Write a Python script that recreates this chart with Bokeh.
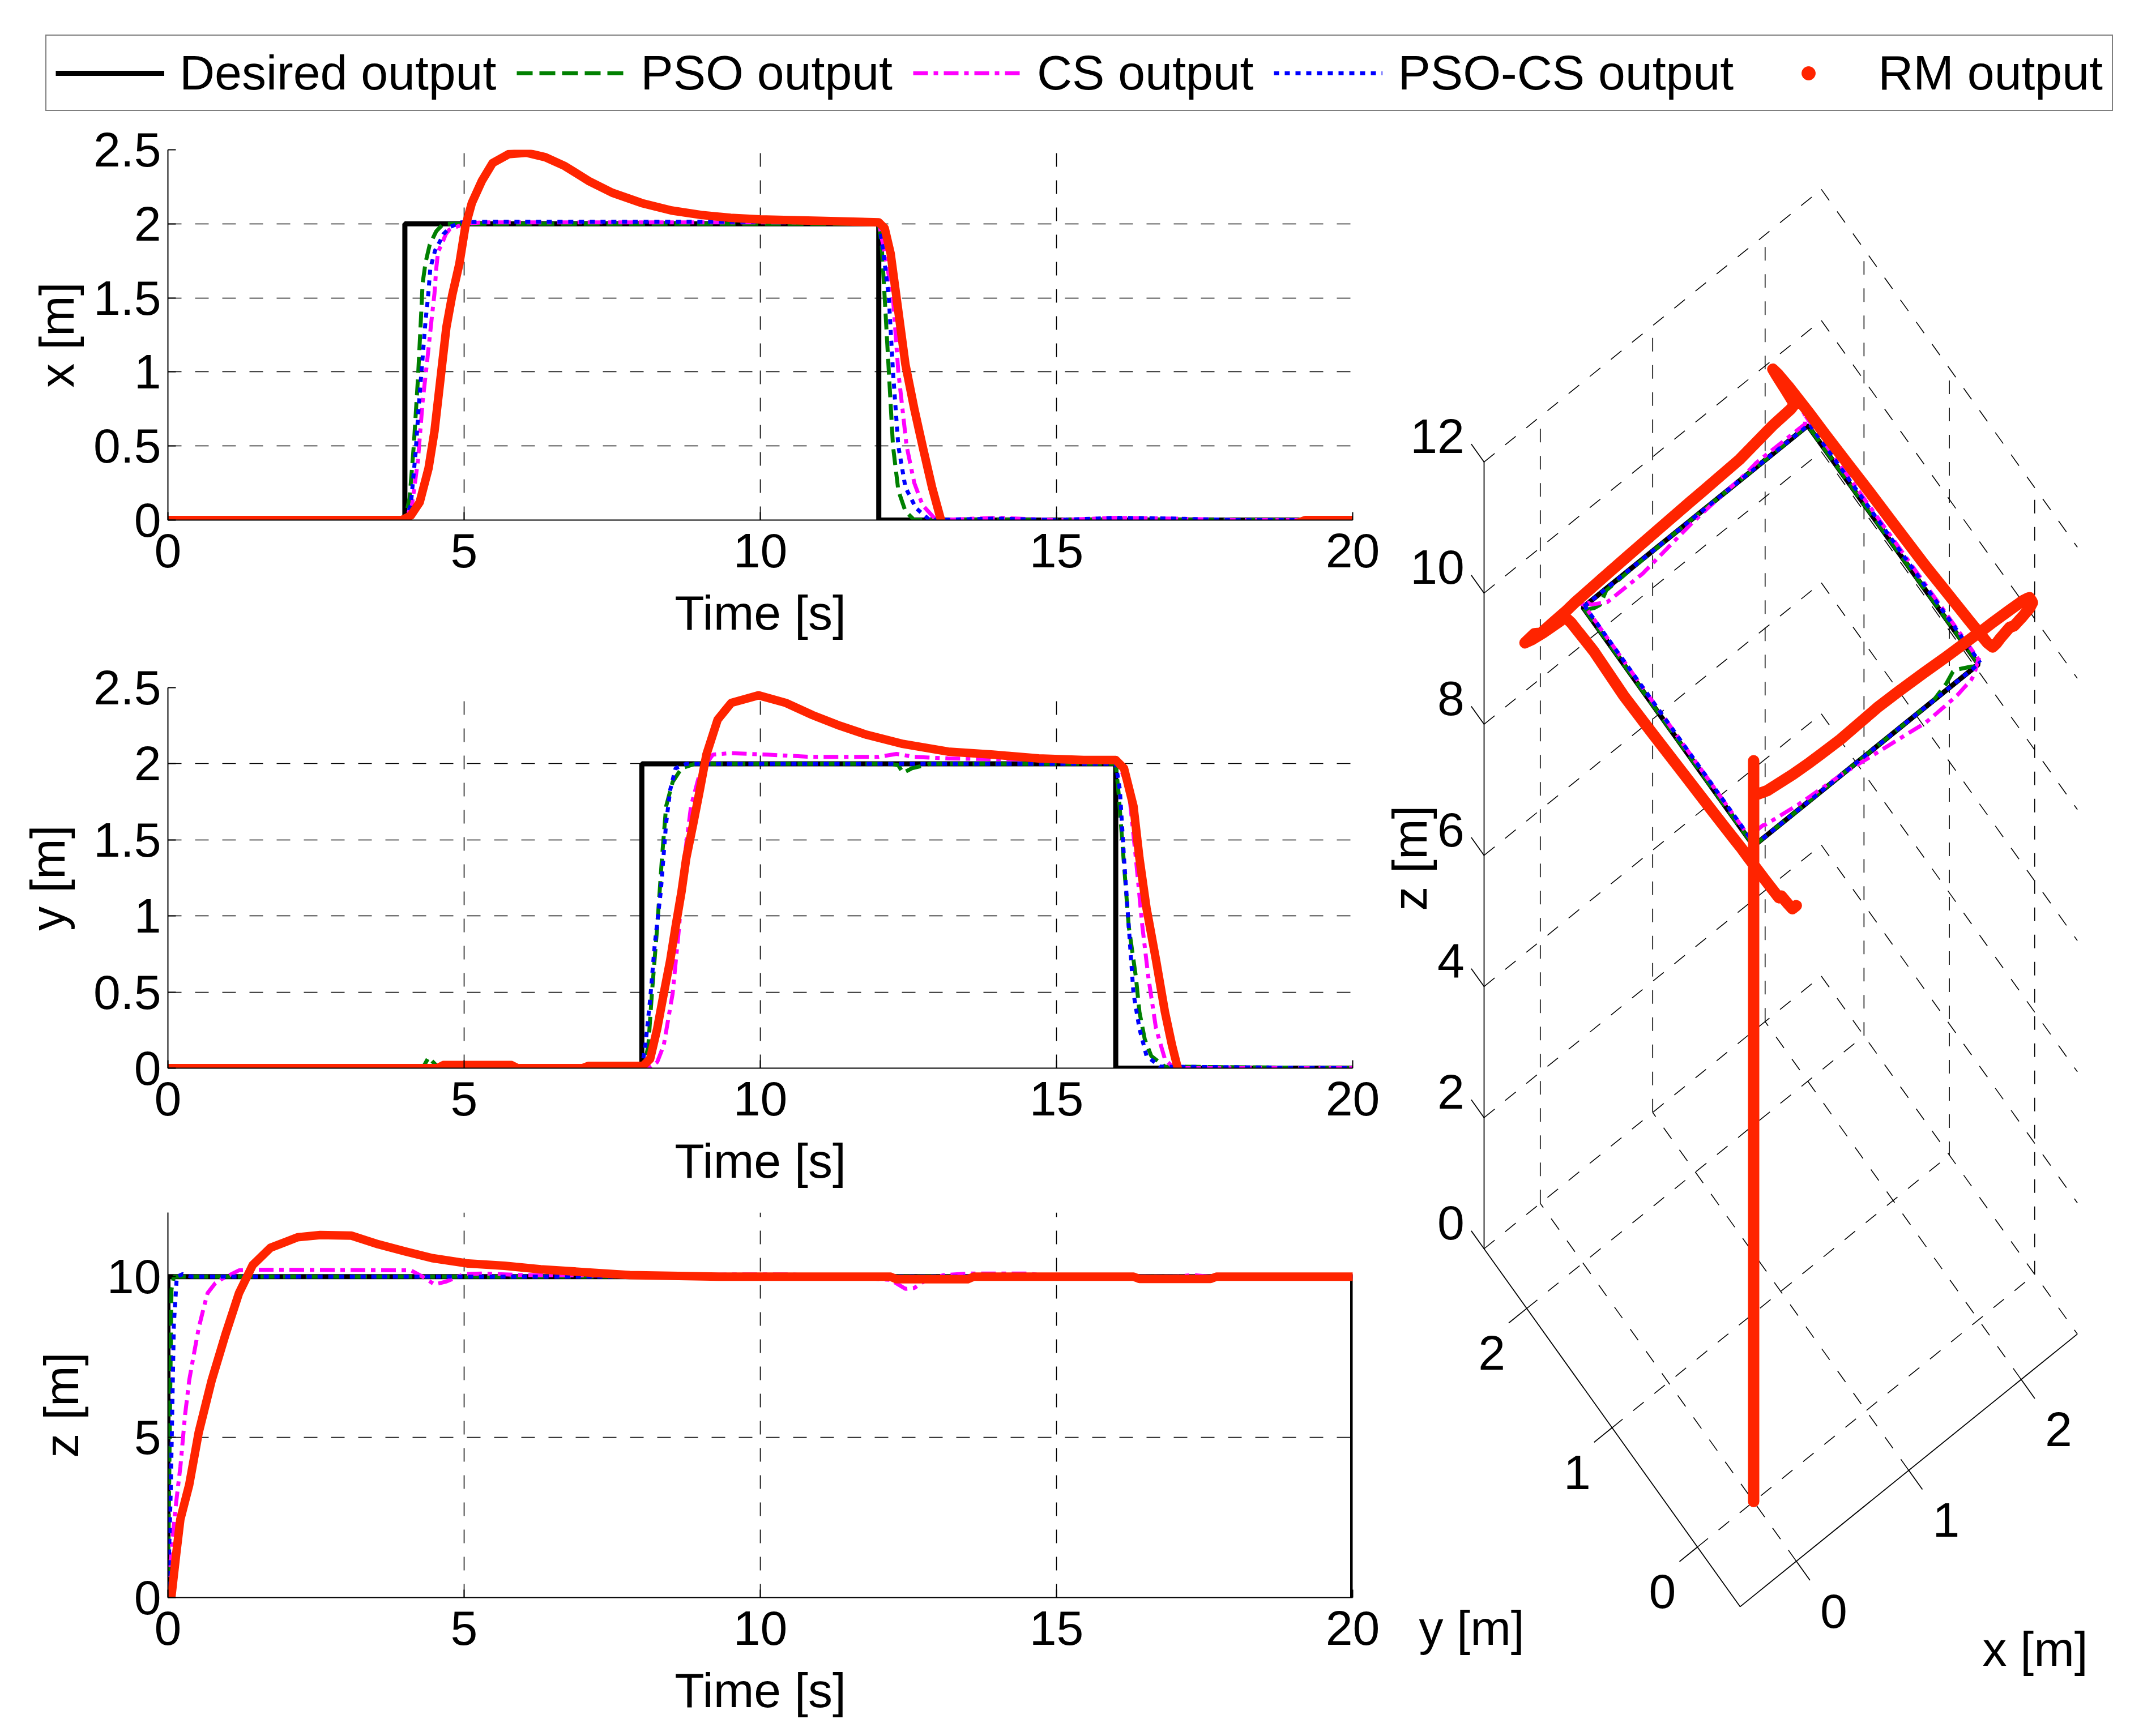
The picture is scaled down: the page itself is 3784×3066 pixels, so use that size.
import numpy as np
from bokeh.plotting import figure
from bokeh.layouts import column, row
from bokeh.models import Range1d, FixedTicker, Legend, LegendItem, CustomJSTickFormatter
from bokeh.embed import file_html
from bokeh.resources import INLINE
from bokeh.core.properties import value

FONT = "Liberation Sans"
FS = "86px"

# ---------------- data ----------------
# x [m] versus time
t_x_des = [0, 4, 4, 12, 12, 20]
x_des = [0, 0, 2, 2, 0, 0]
t_x_pso = [0, 4.0, 4.08, 4.15, 4.22, 4.27, 4.3, 4.35, 4.42, 4.53, 4.65, 12.0, 12.05, 12.1, 12.17, 12.24, 12.33, 12.45, 12.6, 20]
x_pso = [0, 0, 0.15, 0.5, 0.95, 1.35, 1.6, 1.74, 1.86, 1.95, 2.0, 2.0, 1.85, 1.5, 1.0, 0.5, 0.2, 0.06, 0.0, 0.0]
t_x_cs = [0, 4.0, 4.12, 4.22, 4.3, 4.37, 4.45, 4.5, 4.53, 4.56, 4.64, 4.69, 4.75, 5.0, 5.3, 12.0, 12.1, 12.24, 12.33, 12.47, 12.6, 12.74, 12.97, 14.0, 15.0, 16.0, 17.0, 18.0, 20]
x_cs = [0, 0, 0.1, 0.4, 0.8, 1.05, 1.35, 1.53, 1.7, 1.81, 1.88, 1.93, 1.96, 2.0, 2.01, 2.01, 1.8, 1.5, 1.0, 0.5, 0.25, 0.1, 0.0, 0.015, 0.0, 0.015, 0.01, 0.0, 0.0]
t_x_pcs = [0, 4.0, 4.1, 4.18, 4.24, 4.29, 4.35, 4.39, 4.43, 4.51, 4.59, 4.65, 4.77, 4.95, 5.5, 12.0, 12.08, 12.17, 12.24, 12.33, 12.45, 12.63, 12.86, 14.0, 15.0, 16.0, 17.0, 18.0, 20]
x_pcs = [0, 0, 0.1, 0.45, 0.8, 1.05, 1.35, 1.5, 1.7, 1.82, 1.88, 1.93, 1.98, 2.01, 2.015, 2.015, 1.8, 1.5, 1.0, 0.5, 0.22, 0.08, 0.0, 0.01, 0.0, 0.015, 0.01, 0.0, 0.0]
t_x_rm = [0, 3.95, 4.1, 4.25, 4.4, 4.5, 4.6, 4.7, 4.8, 4.92, 5.02, 5.13, 5.3, 5.48, 5.75, 6.05, 6.37, 6.7, 7.1, 7.5, 8.0, 8.5, 9.0, 9.5, 10.0, 11.0, 12.0, 12.1, 12.2, 12.3, 12.45, 12.6, 12.75, 12.9, 13.05, 13.3, 13.6, 13.9, 14.3, 14.8, 15.5, 16.0, 16.5, 17.0, 18.0, 19.0, 19.2, 20.0]
x_rm = [0, 0, 0.03, 0.12, 0.35, 0.6, 0.95, 1.3, 1.52, 1.73, 1.98, 2.14, 2.29, 2.41, 2.47, 2.48, 2.45, 2.39, 2.29, 2.21, 2.14, 2.09, 2.06, 2.04, 2.03, 2.02, 2.01, 1.97, 1.8, 1.5, 1.05, 0.75, 0.48, 0.22, 0.0, -0.2, -0.38, -0.47, -0.42, -0.3, -0.18, -0.14, -0.1, -0.06, -0.04, -0.03, 0.0, 0.0]

# y [m] versus time
t_y_des = [0, 8, 8, 16, 16, 20]
y_des = [0, 0, 2, 2, 0, 0]
t_y_pso = [0, 4.3, 4.4, 4.55, 4.7, 8.0, 8.05, 8.11, 8.17, 8.26, 8.34, 8.41, 8.52, 8.67, 8.9, 12.2, 12.33, 12.41, 12.56, 12.87, 16.0, 16.05, 16.11, 16.22, 16.34, 16.4, 16.49, 16.6, 16.83, 20]
y_pso = [0, 0, 0.07, 0.01, 0, 0, 0.03, 0.15, 0.49, 0.93, 1.38, 1.72, 1.88, 1.97, 2.0, 2.0, 1.99, 1.94, 1.97, 2.0, 2.0, 1.8, 1.49, 0.93, 0.6, 0.37, 0.19, 0.08, 0.01, 0.0]
t_y_cs = [0, 8.0, 8.15, 8.26, 8.37, 8.52, 8.63, 8.72, 8.83, 8.98, 9.2, 9.51, 10.12, 10.88, 12.0, 12.3, 12.6, 13.17, 16.0, 16.1, 16.22, 16.34, 16.45, 16.55, 16.68, 16.83, 16.98, 20]
y_cs = [0, 0, 0.01, 0.04, 0.15, 0.49, 0.93, 1.38, 1.72, 1.94, 2.06, 2.07, 2.06, 2.045, 2.045, 2.065, 2.045, 2.035, 2.02, 1.95, 1.83, 1.38, 0.93, 0.6, 0.26, 0.06, 0.0, 0.0]
t_y_pcs = [0, 5.8, 5.9, 7.0, 7.1, 8.0, 8.06, 8.14, 8.22, 8.32, 8.41, 8.48, 8.57, 8.75, 16.0, 16.07, 16.14, 16.22, 16.3, 16.4, 16.52, 16.75, 20]
y_pcs = [0, 0, 0.01, 0.01, 0, 0, 0.15, 0.45, 0.82, 1.16, 1.61, 1.83, 1.97, 2.0, 2.0, 1.83, 1.38, 0.93, 0.49, 0.26, 0.08, 0.01, 0.0]
t_y_rm = [0, 4.55, 4.65, 5.8, 5.9, 7.0, 7.1, 8.02, 8.14, 8.26, 8.37, 8.48, 8.57, 8.67, 8.75, 8.87, 8.98, 9.09, 9.28, 9.51, 9.97, 10.43, 10.88, 11.34, 11.8, 12.41, 13.17, 13.93, 14.7, 15.46, 16.0, 16.14, 16.3, 16.4, 16.52, 16.68, 16.83, 16.95, 17.06, 17.3, 17.6, 18.0, 18.5, 20.0]
y_rm = [0.0, 0.0, 0.02, 0.02, 0.0, 0.0, 0.015, 0.015, 0.06, 0.26, 0.49, 0.71, 0.93, 1.16, 1.38, 1.61, 1.83, 2.06, 2.29, 2.40, 2.45, 2.40, 2.32, 2.25, 2.19, 2.13, 2.08, 2.06, 2.035, 2.025, 2.025, 1.97, 1.72, 1.38, 1.05, 0.71, 0.37, 0.15, -0.02, -0.2, -0.36, -0.46, -0.5, -0.5]

# z [m] versus time
t_z_des = [0, 0, 20, 20]
z_des = [0, 10, 10, 0]
t_z_pso = [0, 0.03, 0.06, 0.1, 20]
z_pso = [0, 5, 9.6, 10, 10]
t_z_cs = [0, 0.06, 0.14, 0.21, 0.29, 0.36, 0.45, 0.52, 0.6, 0.67, 0.8, 0.9, 1.2, 1.5, 4.1, 4.3, 4.5, 4.7, 5.0, 5.3, 6.0, 8.0, 9.5, 10.5, 11.5, 12.2, 12.45, 12.6, 12.8, 13.1, 13.5, 14.5, 15.0, 17.0, 17.3, 17.6, 20]
z_cs = [0, 1.5, 2.98, 4.07, 5.7, 6.78, 7.7, 8.4, 9.0, 9.49, 9.8, 9.92, 10.2, 10.22, 10.2, 10.0, 9.76, 9.85, 10.08, 10.1, 10.05, 10.03, 10.07, 10.07, 10.0, 9.9, 9.62, 9.65, 9.9, 10.05, 10.1, 10.1, 10.0, 10.0, 10.05, 10.0, 10.0]
t_z_pcs = [0, 0.05, 0.1, 0.15, 0.25, 0.4, 20]
z_pcs = [0, 3.5, 8.5, 10.0, 10.08, 10.0, 10.0]
t_z_rm = [0, 0.06, 0.14, 0.21, 0.36, 0.52, 0.74, 0.97, 1.2, 1.43, 1.73, 2.19, 2.57, 3.1, 3.55, 4.0, 4.46, 5.07, 5.68, 6.29, 7.05, 7.8, 9.3, 12.2, 12.3, 13.5, 13.6, 16.3, 16.4, 17.6, 17.7, 20]
z_rm = [0, 0.05, 1.36, 2.44, 3.52, 5.15, 6.78, 8.19, 9.49, 10.36, 10.9, 11.23, 11.3, 11.28, 11.01, 10.79, 10.58, 10.41, 10.34, 10.23, 10.14, 10.05, 10.0, 10.0, 9.92, 9.92, 10.0, 10.0, 9.93, 9.93, 10.0, 10.0]

labels = ["Desired output", "PSO output", "CS output", "PSO-CS output", "RM output"]
keys = ["des", "pso", "cs", "pcs", "rm"]
t_ticks = [0, 5, 10, 15, 20]
x_ticks = [0, 0.5, 1, 1.5, 2, 2.5]
y_ticks = [0, 0.5, 1, 1.5, 2, 2.5]
z_ticks = [0, 5, 10]
x3_lim = [-0.5, 2.5]
y3_lim = [-0.5, 2.5]
z3_lim = [0, 12]
x3_ticks = [0, 1, 2]
y3_ticks = [0, 1, 2]
z3_ticks = [0, 2, 4, 6, 8, 10, 12]

SERIES = {
    "des": (t_x_des, x_des, t_y_des, y_des, t_z_des, z_des),
    "pso": (t_x_pso, x_pso, t_y_pso, y_pso, t_z_pso, z_pso),
    "cs": (t_x_cs, x_cs, t_y_cs, y_cs, t_z_cs, z_cs),
    "pcs": (t_x_pcs, x_pcs, t_y_pcs, y_pcs, t_z_pcs, z_pcs),
    "rm": (t_x_rm, x_rm, t_y_rm, y_rm, t_z_rm, z_rm),
}

# ---------------- styles ----------------
RED = "#ff2400"
STYLE = {
    "des": dict(line_color="#000000", line_width=9),
    "pso": dict(line_color="#008000", line_width=7, line_dash="28 12"),
    "cs": dict(line_color="#ff00ff", line_width=7, line_dash="26 10 8 10"),
    "pcs": dict(line_color="#0000ff", line_width=7, line_dash="9 10"),
    "rm": dict(line_color=RED, line_width=15, line_cap="round", line_join="round"),
}
GRID_DASH = "24 24"
SPLIT = 2444          # page x where the 3-D panel starts
LEFT_W = SPLIT - 8


def style_axes(p, ylab, ylab_standoff):
    p.outline_line_color = None
    p.background_fill_color = "white"
    p.border_fill_color = "white"
    for ax in (p.xaxis[0], p.yaxis[0]):
        ax.axis_line_width = 2
        ax.axis_line_color = "black"
        ax.major_tick_in = 14
        ax.major_tick_out = 0
        ax.minor_tick_in = 0
        ax.minor_tick_out = 0
        ax.major_tick_line_width = 2
        ax.major_label_text_font = FONT
        ax.major_label_text_font_size = FS
        ax.major_label_text_color = "black"
        ax.axis_label_text_font = FONT
        ax.axis_label_text_font_size = FS
        ax.axis_label_text_font_style = "normal"
        ax.axis_label_text_color = "black"
        ax.formatter = CustomJSTickFormatter(code="return tick.toString();")
    p.xaxis.axis_label = "Time [s]"
    p.yaxis.axis_label = ylab
    p.xaxis.major_label_standoff = 24
    p.xaxis.axis_label_standoff = 29
    p.yaxis.major_label_standoff = 12
    p.yaxis.axis_label_standoff = ylab_standoff
    for g in (p.xgrid[0], p.ygrid[0]):
        g.grid_line_color = "black"
        g.grid_line_dash = GRID_DASH
        g.grid_line_width = 1.6


def time_fig(h, left, frame_right, top, bottom, ymax, yticks, ylab, ylab_standoff, idx):
    p = figure(width=LEFT_W, height=h, x_range=Range1d(0, 20), y_range=Range1d(0, ymax),
               output_backend="svg", toolbar_location=None,
               min_border_left=left, min_border_right=SPLIT - frame_right,
               min_border_top=top, min_border_bottom=bottom)
    p.xaxis.ticker = FixedTicker(ticks=t_ticks)
    p.yaxis.ticker = FixedTicker(ticks=yticks)
    style_axes(p, ylab, ylab_standoff)
    for k in keys:
        s = SERIES[k]
        p.line(s[2 * idx], s[2 * idx + 1], **STYLE[k])
    return p


p1 = time_fig(937, 296, 2396, 57, 226, 2.5, x_ticks, "x [m]", 14, 0)
p2 = time_fig(956, 290, 2396, 70, 211, 2.5, y_ticks, "y [m]", 30, 1)
p3 = time_fig(950, 290, 2396, 41, 229, 12, z_ticks, "z [m]", 30, 2)

# ---------------- legend strip ----------------
pl = figure(width=3768, height=207, x_range=Range1d(0, 1), y_range=Range1d(0, 1),
            output_backend="svg", toolbar_location=None, min_border=0)
pl.axis.visible = False
pl.grid.visible = False
pl.outline_line_color = None
items = []
for k, lab in zip(keys, labels):
    if k == "rm":
        r = pl.scatter([np.nan], [np.nan], marker="circle", size=13, fill_color=RED, line_color=RED)
    else:
        r = pl.line([np.nan], [np.nan], **STYLE[k])
    items.append(LegendItem(label=lab, renderers=[r]))
leg = Legend(items=items, orientation="horizontal", location=(80, 11),
             glyph_width=192, glyph_height=60, label_standoff=27, spacing=36,
             padding=16, margin=0, border_line_color="black", border_line_width=2,
             background_fill_alpha=1.0, label_text_font=FONT, label_text_font_size=FS,
             label_text_color="black")
pl.add_layout(leg)

# ---------------- 3-D view (orthographic projection) ----------------
ORIGIN = (2628.0, 2213.0)   # page position of corner (x=-0.5, y=2.5, z=0)
EX = (198.5, -160.5)
EY = (-150.7, -210.7)
EZ = (0.0, -115.8)


def proj(x, y, z):
    x = np.asarray(x, float); y = np.asarray(y, float); z = np.asarray(z, float)
    dx = x - x3_lim[0]; dy = y - y3_lim[1]
    X = ORIGIN[0] + dx * EX[0] + dy * EY[0] + z * EZ[0]
    Y = ORIGIN[1] + dx * EX[1] + dy * EY[1] + z * EZ[1]
    return X, -Y


def limit(ta, va, t, side):
    ta = np.asarray(ta, float); va = np.asarray(va, float)
    if side == "right":
        i = np.searchsorted(ta, t, "right") - 1
        if i >= len(ta) - 1:
            return va[-1]
        if i < 0:
            return va[0]
        return va[i] + (va[i + 1] - va[i]) * (t - ta[i]) / (ta[i + 1] - ta[i])
    j = np.searchsorted(ta, t, "left")
    if j <= 0:
        return va[0]
    if j >= len(ta):
        return va[-1]
    return va[j - 1] + (va[j] - va[j - 1]) * (t - ta[j - 1]) / (ta[j] - ta[j - 1])


def path3d(tx, vx, ty, vy, tz, vz):
    times = sorted(set(tx) | set(ty) | set(tz))
    jumps = set()
    for arr in (tx, ty, tz):
        for t in arr:
            if list(arr).count(t) > 1:
                jumps.add(t)
    px, py, pz = [], [], []
    for t in times:
        for s in (["left", "right"] if t in jumps else ["right"]):
            px.append(limit(tx, vx, t, s)); py.append(limit(ty, vy, t, s)); pz.append(limit(tz, vz, t, s))
    return px, py, pz


p3d = figure(width=3776 - SPLIT, height=2843, x_range=Range1d(SPLIT, 3776), y_range=Range1d(-3058, -215),
             output_backend="svg", toolbar_location=None, min_border=0)
p3d.axis.visible = False
p3d.grid.visible = False
p3d.outline_line_color = None

x0, x1 = x3_lim; y0, y1 = y3_lim; z0, z1 = z3_lim
grid_segs = []
for xv in x3_ticks:
    grid_segs.append(((xv, y0, 0), (xv, y1, 0)))      # floor
    grid_segs.append(((xv, y1, z0), (xv, y1, z1)))    # back wall y = max
for yv in y3_ticks:
    grid_segs.append(((x0, yv, 0), (x1, yv, 0)))      # floor
    grid_segs.append(((x1, yv, z0), (x1, yv, z1)))    # back wall x = max
for zv in z3_ticks:
    grid_segs.append(((x0, y1, zv), (x1, y1, zv)))
    grid_segs.append(((x1, y1, zv), (x1, y0, zv)))
gx, gy = [], []
for a, b in grid_segs:
    X, Y = proj([a[0], b[0]], [a[1], b[1]], [a[2], b[2]])
    gx.append(list(X)); gy.append(list(Y))
p3d.multi_line(gx, gy, line_color="black", line_width=1.6, line_dash=GRID_DASH)

axis_segs = [((x0, y1, z0), (x0, y1, z1)), ((x0, y1, 0), (x0, y0, 0)), ((x0, y0, 0), (x1, y0, 0))]
tick_segs = []
for zv in z3_ticks:
    tick_segs.append(((x0, y1, zv), (x0, y1 + 0.15, zv)))
for yv in y3_ticks:
    tick_segs.append(((x0, yv, 0), (x0 - 0.16, yv, 0)))
for xv in x3_ticks:
    tick_segs.append(((xv, y0, 0), (xv, y0 - 0.16, 0)))
ax_x, ax_y = [], []
for a, b in axis_segs + tick_segs:
    X, Y = proj([a[0], b[0]], [a[1], b[1]], [a[2], b[2]])
    ax_x.append(list(X)); ax_y.append(list(Y))
p3d.multi_line(ax_x, ax_y, line_color="black", line_width=1.8)

# tick labels
zx, zy = proj([x0] * len(z3_ticks), [y1 + 0.15] * len(z3_ticks), z3_ticks)
p3d.text(x=list(zx - 12), y=list(zy + 14), text=[str(v) for v in z3_ticks],
         text_font=value(FONT), text_font_size=value(FS), text_align="right",
         text_baseline="middle", text_color="black")
yx, yy = proj([x0 - 0.16] * len(y3_ticks), y3_ticks, [0] * len(y3_ticks))
p3d.text(x=list(yx - 30), y=list(yy - 53), text=[str(v) for v in y3_ticks],
         text_font=value(FONT), text_font_size=value(FS), text_align="center",
         text_baseline="middle", text_color="black")
xx, xy = proj(x3_ticks, [y0 - 0.16] * len(x3_ticks), [0] * len(x3_ticks))
p3d.text(x=list(xx + 42), y=list(xy - 54), text=[str(v) for v in x3_ticks],
         text_font=value(FONT), text_font_size=value(FS), text_align="center",
         text_baseline="middle", text_color="black")
# axis titles
FX, FY = proj([x0], [y0], [0])
ZX, ZY = proj([x0], [y1], [6])
p3d.text(x=[ZX[0] - 132], y=[ZY[0] - 5], text=["z [m]"], angle=np.pi / 2,
         text_font=value(FONT), text_font_size=value(FS), text_align="center",
         text_baseline="middle", text_color="black")
p3d.text(x=[FX[0] - 474, FX[0] + 521], y=[FY[0] - 37, FY[0] - 74], text=["y [m]", "x [m]"],
         text_font=value(FONT), text_font_size=value(FS), text_align="center",
         text_baseline="middle", text_color="black")

STYLE3 = dict(STYLE)
STYLE3["rm"] = dict(line_color=RED, line_width=20, line_cap="round", line_join="round")
for k in keys:
    px, py, pz = path3d(*SERIES[k])
    X, Y = proj(px, py, pz)
    p3d.line(X, Y, **STYLE3[k])

layout = column(pl, row(column(p1, p2, p3), p3d))
open("out.html", "w").write(file_html(layout, INLINE))
